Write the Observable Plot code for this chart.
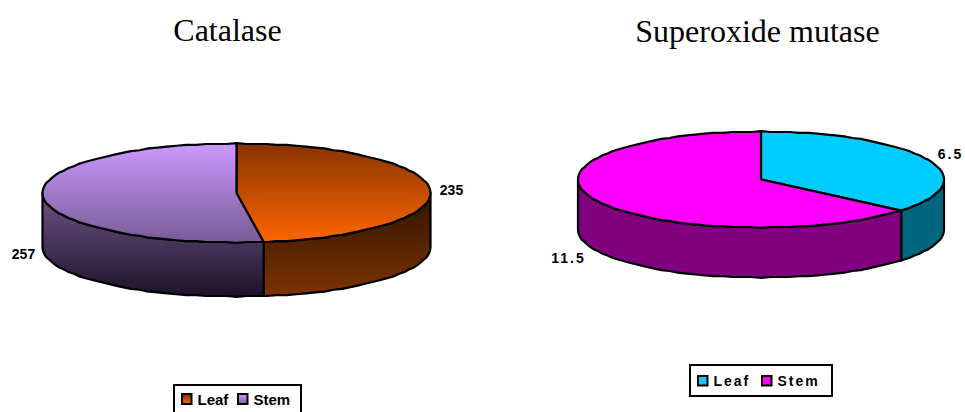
<!DOCTYPE html>
<html>
<head>
<meta charset="utf-8">
<script src="https://cdn.jsdelivr.net/npm/d3@7"></script>
<script src="https://cdn.jsdelivr.net/npm/@observablehq/plot@0.6"></script>
<style>
  html, body { margin: 0; padding: 0; background: #fff; overflow: hidden; }
  #charts { display: flex; width: 965px; height: 412px; }
  #charts svg { display: block; max-width: none; flex: none; }
</style>
</head>
<body>
<div id="charts"></div>
<script>
// Enzyme activity by plant part
const categories = ["Leaf", "Stem"];
const catalaseValues = [235, 257];
const superoxideValues = [6.5, 11.5];

const HEIGHT = 412;
const FACET_DEGREES = 3;  // the rim is drawn as short straight runs
const RIM_GRID = 0.018;   // and its vertices sit on a fine grid, in pie units
const BODY_FONT = "'Liberation Sans', Arial, sans-serif";
const TITLE_FONT = "'Liberation Serif', 'Times New Roman', serif";

const catalaseLayout = {
  left: 0, width: 482, cx: 236, cy: 192.5, rx: 194, ry: 49.5, depth: 54,
  title: "Catalase", titleX: 227, titleY: 40,
  labelX: [451, 23], labelY: [194, 258], spacing: 0,
  box: [174, 385, 301, 414],
  swatchX: [182, 238], swatchY: [394, 404], swatchW: 9.5,
  legendX: [197, 253], legendY: 404.5, legendSize: 15,
  top: ["url(#leafTop)", "url(#stemTop)"],
  side: ["url(#leafSide)", "url(#stemSide)"],
  swatch: ["url(#leafSwatch)", "url(#stemSwatch)"]
};

const superoxideLayout = {
  left: 482, width: 483, cx: 760.5, cy: 179, rx: 183, ry: 48, depth: 50,
  title: "Superoxide mutase", titleX: 757, titleY: 41,
  labelX: [950, 568], labelY: [158, 262], spacing: 2,
  box: [690, 365, 832, 396],
  swatchX: [698, 762], swatchY: [376, 385.5], swatchW: 9.5,
  legendX: [713, 777], legendY: 385, legendSize: 14,
  top: ["#00ccff", "#ff00ff"],
  side: ["#006680", "#800080"],
  swatch: ["#00ccff", "#ff00ff"]
};

const gradients = {
  leafTop: ["#863300", "#ff6600"],
  stemTop: ["#cc99ff", "#775a96"],
  leafSide: ["#2e1400", "#7d3300"],
  stemSide: ["#6e5488", "#1c1228"],
  leafSwatch: ["#7a3000", "#ff6600"],
  stemSwatch: ["#cc99ff", "#7f60a0"]
};

// Vertical gradients shared by the shaded pie
function gradientDefs() {
  const defs = d3.create("svg:defs");
  for (const [id, [from, to]] of Object.entries(gradients)) {
    const g = defs.append("linearGradient").attr("id", id)
      .attr("x1", 0).attr("y1", 0).attr("x2", 0).attr("y2", 1);
    g.append("stop").attr("offset", 0).attr("stop-color", from);
    g.append("stop").attr("offset", 1).attr("stop-color", to);
  }
  return defs.node();
}

// Points along the rim between two angles, clockwise from twelve o'clock.
// Vertices fall on whole facets so the top and the wall share the same edge.
function rim(a0, a1, drop = 0) {
  const inner = d3.range(Math.floor(a0 / FACET_DEGREES) + 1, Math.ceil(a1 / FACET_DEGREES))
    .map(k => k * FACET_DEGREES);
  return [a0, ...inner, a1].map(deg => {
    const a = deg * Math.PI / 180;
    const y = Math.round(-Math.cos(a) / RIM_GRID) * RIM_GRID;
    return { x: Math.sin(a), y: y + drop };
  });
}

function slices(values) {
  const total = d3.sum(values);
  let start = 0;
  return values.map(v => {
    const a0 = start;
    start += v / total * 360;
    return { a0, a1: start };
  });
}

function pieChart(values, L) {
  const drop = L.depth / L.ry;
  const px = v => (v - L.cx) / L.rx;   // page position to pie units
  const py = v => (v - L.cy) / L.ry;
  const outline = { stroke: "#000", strokeWidth: 2.2, strokeLinejoin: "round", curve: "linear-closed", x: "x", y: "y" };
  const parts = slices(values);

  // Wall of the cylinder: only the part of each slice facing the viewer
  const walls = parts.map((s, i) => {
    const a0 = Math.max(s.a0, 90), a1 = Math.min(s.a1, 270);
    if (a1 <= a0) return null;
    const pts = [...rim(a0, a1), ...rim(a0, a1, drop).reverse()];
    return Plot.line(pts, { ...outline, fill: L.side[i] });
  }).filter(Boolean);

  const tops = parts.map((s, i) => {
    const pts = [{ x: 0, y: 0 }, ...rim(s.a0, s.a1)];
    return Plot.line(pts, { ...outline, fill: L.top[i] });
  });

  const spaced = (index, scales, channels, dims, ctx, next) => {
    const g = next(index, scales, channels, dims, ctx);
    g.style.letterSpacing = `${L.spacing}px`;
    return g;
  };
  const textBase = { fontFamily: BODY_FONT, fontWeight: "bold", fontSize: 14, fill: "#000", lineAnchor: "bottom", render: spaced };

  return Plot.plot({
    width: L.width,
    height: HEIGHT,
    margin: 0,
    x: { axis: null, type: "linear", domain: [px(L.left), px(L.left + L.width)], range: [0, L.width] },
    y: { axis: null, type: "linear", domain: [py(0), py(HEIGHT)], range: [0, HEIGHT] },
    marks: [
      gradientDefs,
      ...walls,
      ...tops,
      // value labels
      Plot.text(values, {
        ...textBase,
        x: (d, i) => px(L.labelX[i]),
        y: (d, i) => py(L.labelY[i]),
        text: d => String(d),
        textAnchor: "middle"
      }),
      // title
      Plot.text([L.title], {
        x: () => px(L.titleX), y: () => py(L.titleY), text: d => d,
        fontFamily: TITLE_FONT, fontSize: 32, fill: "#000", lineAnchor: "bottom", textAnchor: "middle"
      }),
      // legend
      Plot.rect([L.box], {
        x1: b => px(b[0]), y1: b => py(b[1]), x2: b => px(b[2]), y2: b => py(b[3]),
        fill: "#fff", stroke: "#000", strokeWidth: 2
      }),
      Plot.rect(categories, {
        x1: (d, i) => px(L.swatchX[i]),
        x2: (d, i) => px(L.swatchX[i] + L.swatchW),
        y1: () => py(L.swatchY[0]),
        y2: () => py(L.swatchY[1]),
        fill: (d, i) => L.swatch[i],
        stroke: "#000",
        strokeWidth: 2
      }),
      Plot.text(categories, {
        ...textBase,
        fontSize: L.legendSize,
        x: (d, i) => px(L.legendX[i]),
        y: () => py(L.legendY),
        text: d => d,
        textAnchor: "start"
      })
    ]
  });
}

const host = document.getElementById("charts");
host.append(pieChart(catalaseValues, catalaseLayout));
host.append(pieChart(superoxideValues, superoxideLayout));
</script>
</body>
</html>
